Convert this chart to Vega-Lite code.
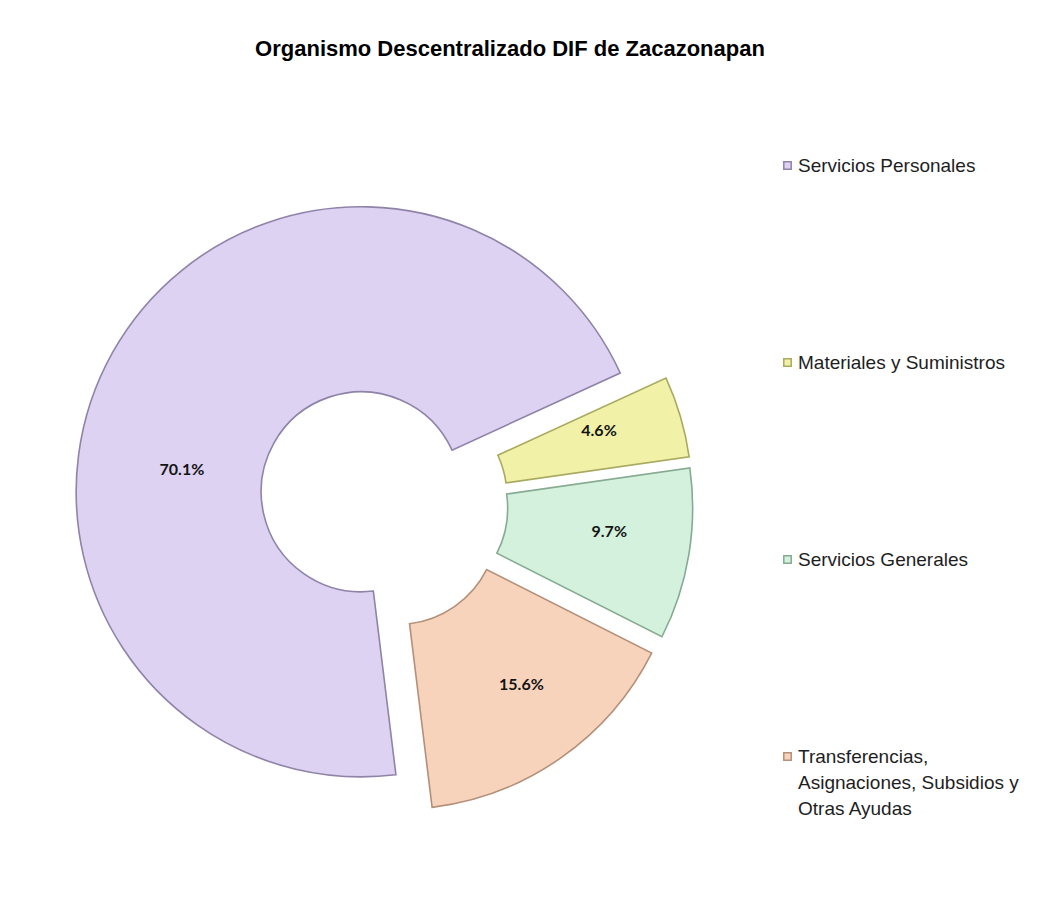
{
  "$schema": "https://vega.github.io/schema/vega-lite/v6.json",
  "width": 766,
  "height": 780,
  "autosize": {"type": "none"},
  "padding": {"left": 0, "top": 114, "right": 284, "bottom": 15},
  "background": "white",
  "config": {
    "view": {"stroke": null},
    "style": {"guide-label": {"lineHeight": 26}}
  },
  "title": {
    "text": "Organismo Descentralizado DIF de Zacazonapan",
    "font": "Liberation Sans",
    "fontSize": 22,
    "fontWeight": "bold",
    "color": "#000000",
    "anchor": "middle",
    "dx": 127,
    "offset": 53
  },
  "data": {
    "values": [
      {"rubro": "Servicios Personales", "pct": 70.1, "etiqueta": "70.1%", "orden": 1},
      {"rubro": "Materiales y Suministros", "pct": 4.6, "etiqueta": "4.6%", "orden": 2},
      {"rubro": "Servicios Generales", "pct": 9.7, "etiqueta": "9.7%", "orden": 3},
      {"rubro": "Transferencias, Asignaciones, Subsidios y Otras Ayudas", "pct": 15.6, "etiqueta": "15.6%", "orden": 4}
    ]
  },
  "encoding": {
    "theta": {"field": "pct", "type": "quantitative", "stack": true, "scale": {"range": [3.0194, 9.3026]}},
    "order": {"field": "orden", "type": "quantitative"}
  },
  "layer": [
    {
      "mark": {
        "type": "arc",
        "innerRadius": 100,
        "outerRadius": 285,
        "strokeWidth": 1.6,
        "xOffset": {"expr": "25 * sin(scale('theta', (datum.pct_start + datum.pct_end) / 2))"},
        "yOffset": {"expr": "-25 * cos(scale('theta', (datum.pct_start + datum.pct_end) / 2))"}
      },
      "encoding": {
        "color": {
          "field": "rubro",
          "type": "nominal",
          "sort": ["Servicios Personales", "Materiales y Suministros", "Servicios Generales", "Transferencias, Asignaciones, Subsidios y Otras Ayudas"],
          "scale": {
            "domain": ["Servicios Personales", "Materiales y Suministros", "Servicios Generales", "Transferencias, Asignaciones, Subsidios y Otras Ayudas"],
            "range": ["#ddd2f2", "#f1f1a8", "#d3f1dc", "#f8d3bb"]
          },
          "legend": {
            "orient": "none",
            "legendX": 778,
            "legendY": 42,
            "title": null,
            "labelFont": "Liberation Sans",
            "labelFontSize": 19,
            "labelColor": "#1e1e1e",
            "labelLimit": 320,
            "labelOffset": 1,
            "symbolType": "square",
            "symbolSize": 55,
            "symbolStrokeColor": "#8a8a8a",
            "symbolStrokeWidth": 1.5,
            "rowPadding": 177,
            "labelBaseline": "middle",
            "labelExpr": "datum.label == 'Transferencias, Asignaciones, Subsidios y Otras Ayudas' ? ['Transferencias,', 'Asignaciones, Subsidios y', 'Otras Ayudas'] : datum.label"
          }
        },
        "stroke": {
          "field": "rubro",
          "type": "nominal",
          "scale": {
            "domain": ["Servicios Personales", "Materiales y Suministros", "Servicios Generales", "Transferencias, Asignaciones, Subsidios y Otras Ayudas"],
            "range": ["#8f83a8", "#a9a960", "#86ab91", "#b4907a"]
          },
          "legend": null
        }
      }
    },
    {
      "mark": {
        "type": "text",
        "radius": 228,
        "thetaOffset": {"expr": "datum.orden == 1 ? -0.34 : -0.04"},
        "radiusOffset": {"expr": "datum.orden == 1 ? -24 : 0"},
        "font": "Lato",
        "fontWeight": "bold",
        "fontSize": 16,
        "color": "#141414"
      },
      "encoding": {
        "detail": {"field": "rubro", "type": "nominal"},
        "text": {"field": "etiqueta", "type": "nominal"}
      }
    }
  ]
}
